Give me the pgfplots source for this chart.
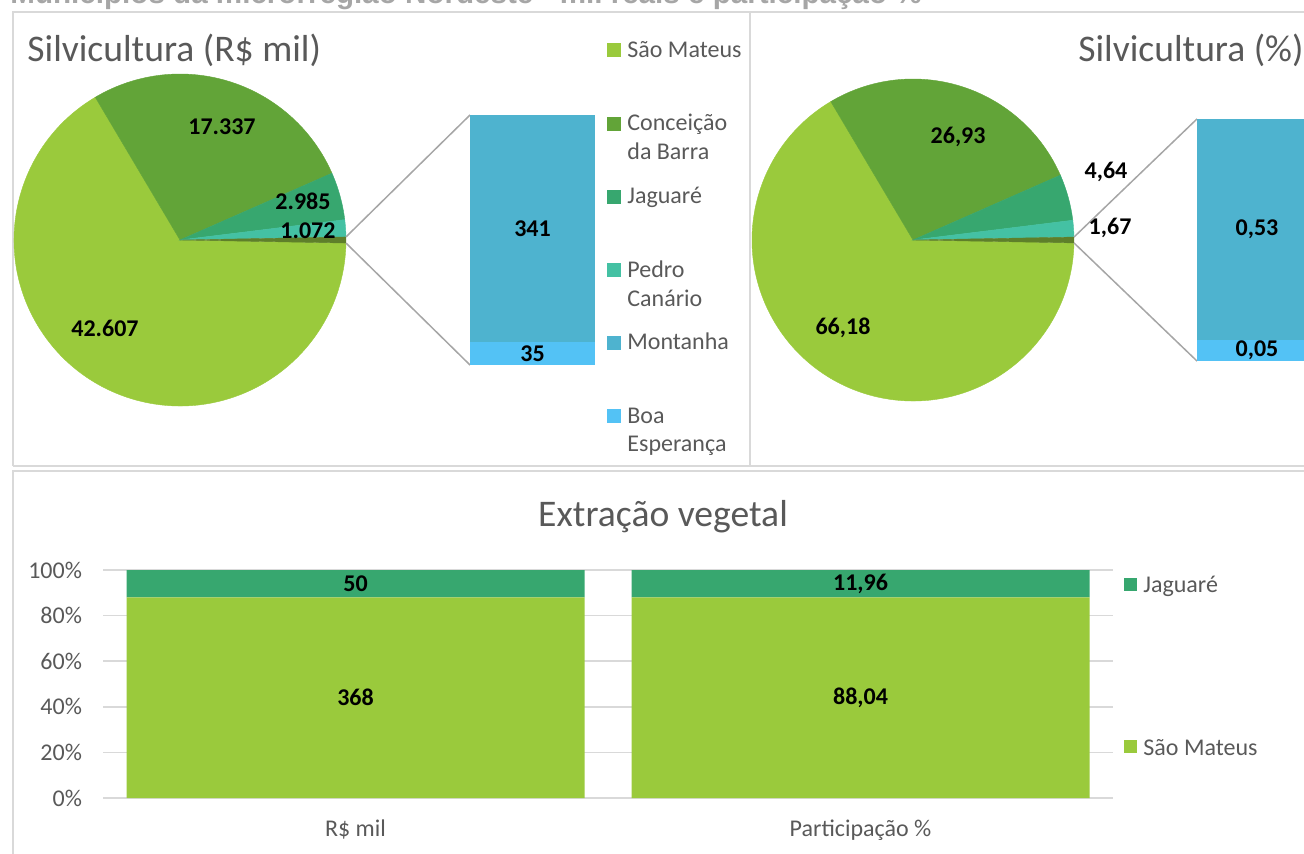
\documentclass[border=0pt]{standalone}
\usepackage{pgfplots}
\pgfplotsset{compat=1.18}
\usepackage{pgfplotstable}
\usepackage{fontspec}
\setmainfont{Carlito}
\newfontfamily\arialfont{Liberation Sans}

\definecolor{cSM}{HTML}{9ACA3C}
\definecolor{cCB}{HTML}{62A438}
\definecolor{cJG}{HTML}{37A76F}
\definecolor{cPC}{HTML}{44C1A3}
\definecolor{cMO}{HTML}{4EB3CF}
\definecolor{cBE}{HTML}{53C2F5}
\definecolor{cOT}{HTML}{5E7F2A}
\definecolor{txtgray}{HTML}{595959}
\definecolor{gridgray}{HTML}{D9D9D9}
\definecolor{framegray}{HTML}{D9D9D9}
\definecolor{linegray}{HTML}{A6A6A6}
\definecolor{toptitle}{HTML}{A6A6A6}

% Silvicultura (R$ mil)
\pgfplotstableread{
name value label
SM 42607 42.607
CB 17337 17.337
JG 2985 2.985
PC 1072 1.072
}\pieA
\pgfplotstableread{
x MO BE MOl BEl
0 341 35 341 35
}\barA
% Silvicultura (%)
\pgfplotstableread{
name value label
SM 66.18 66,18
CB 26.93 26,93
JG 4.64 4,64
PC 1.67 1,67
}\pieB
\pgfplotstableread{
x MO BE MOl BEl
0 0.53 0.05 0,53 0,05
}\barB
% Extracao vegetal
\pgfplotstableread{
x sm jg sml jgl
0 368 50 368 50
1 88.04 11.96 88,04 11,96
}\barC

\newcommand\getv[4]{\pgfplotstablegetelem{#2}{#3}\of#1\edef#4{\pgfplotsretval}}
\newcommand\setang[2]{\expandafter\edef\csname #1\endcsname{\fpeval{round(#2,4)}}}
\newcommand\pieangles[3]{%
  \getv{#1}{0}{value}\vSM
  \getv{#1}{1}{value}\vCB
  \getv{#1}{2}{value}\vJG
  \getv{#1}{3}{value}\vPC
  \getv{#2}{0}{MO}\vMO
  \getv{#2}{0}{BE}\vBE
  \edef\vOT{\fpeval{\vMO+\vBE}}%
  \edef\vT{\fpeval{\vSM+\vCB+\vJG+\vPC+\vOT}}%
  \expandafter\edef\csname #3OT\endcsname{\vOT}%
  \setang{#3a}{-180*\vOT/\vT}%
  \setang{#3b}{\csname #3a\endcsname+360*\vOT/\vT}%
  \setang{#3c}{\csname #3b\endcsname+360*\vPC/\vT}%
  \setang{#3d}{\csname #3c\endcsname+360*\vJG/\vT}%
  \setang{#3e}{\csname #3d\endcsname+360*\vCB/\vT}%
  \setang{#3f}{\csname #3e\endcsname+360*\vSM/\vT}%
}
\pieangles{\pieA}{\barA}{pA}
\pieangles{\pieB}{\barB}{pB}

\newcommand\lbl{\bfseries\fontsize{12}{14}\selectfont}
\newcommand\txt{\fontsize{12}{14.5}\selectfont}
\newcommand\ttl{\fontsize{18.8}{22}\selectfont}
\newcommand\pieslice[4]{\filldraw[fill=#1, draw=#1, line width=0.2pt] (0,0) -- ({cos(#2)},{sin(#2)}) arc[start angle=#2, end angle=#3, radius=#4] -- cycle;}

\pgfplotsset{seglabel/.style={nodes near coords, point meta=explicit symbolic,
   every node near coord/.style={font=\lbl, text=black, anchor=center, inner sep=0pt}}}

\newsavebox\picbox

\begin{document}
\begin{lrbox}{\picbox}%
\begin{tikzpicture}[baseline=0pt, trim left=0pt, trim right=652pt]
\begin{scope}[x=0.5pt,y=0.5pt]
% top (cut) title
\node[anchor=base west, inner sep=0pt, text=toptitle, font=\arialfont\bfseries\fontsize{14.8}{18}\selectfont] at (10,849) {Municípios da microrregião Nordeste - mil reais e participação \%};
% panel frames
\draw[framegray, line width=0.75pt] (13,387) -- (13,841) -- (1310,841);
\draw[framegray, line width=0.75pt] (750,841) -- (750,387);
\draw[framegray, line width=0.75pt] (13,387) -- (1310,387);
\draw[framegray, line width=0.75pt] (13,-5) -- (13,382) -- (1310,382);
% titles
\node[anchor=west, inner sep=0pt, text=txtgray, font=\ttl] at (27,803) {Silvicultura (R\$ mil)};
\node[anchor=east, inner sep=0pt, text=txtgray, font=\ttl] at (1304,803) {Silvicultura (\%)};
\node[anchor=center, inner sep=0pt, text=txtgray, font=\ttl] at (663,336) {Extração vegetal};
% legend top-left
\fill[cSM] (607,796) rectangle (621,810);
\node[anchor=base west, inner sep=0pt, text=txtgray, font=\txt] at (627,795) {São Mateus};
\fill[cCB] (607,722) rectangle (621,736);
\node[anchor=base west, inner sep=0pt, text=txtgray, font=\txt] at (627,722) {Conceição};
\node[anchor=base west, inner sep=0pt, text=txtgray, font=\txt] at (627,693) {da Barra};
\fill[cJG] (607,649) rectangle (621,663);
\node[anchor=base west, inner sep=0pt, text=txtgray, font=\txt] at (627,649) {Jaguaré};
\fill[cPC] (607,576) rectangle (621,590);
\node[anchor=base west, inner sep=0pt, text=txtgray, font=\txt] at (627,576) {Pedro};
\node[anchor=base west, inner sep=0pt, text=txtgray, font=\txt] at (627,547) {Canário};
\fill[cMO] (607,503) rectangle (621,517);
\node[anchor=base west, inner sep=0pt, text=txtgray, font=\txt] at (627,504) {Montanha};
\fill[cBE] (607,430) rectangle (621,444);
\node[anchor=base west, inner sep=0pt, text=txtgray, font=\txt] at (627,430) {Boa};
\node[anchor=base west, inner sep=0pt, text=txtgray, font=\txt] at (627,402) {Esperança};
% legend bottom
\fill[cJG] (1124,262) rectangle (1137,275);
\node[anchor=base west, inner sep=0pt, text=txtgray, font=\txt] at (1143,261) {Jaguaré};
\fill[cSM] (1124,100) rectangle (1137,113);
\node[anchor=base west, inner sep=0pt, text=txtgray, font=\txt] at (1143,98) {São Mateus};
\end{scope}
% ---- Pie 1
\begin{axis}[at={(90pt,306.5pt)}, anchor=center, x=83pt, y=83pt, xmin=-1, xmax=1, ymin=-1, ymax=1, hide axis, clip=false]
\pieslice{cSM}{\pAe}{\pAf}{83pt}
\pieslice{cCB}{\pAd}{\pAe}{83pt}
\pieslice{cJG}{\pAc}{\pAd}{83pt}
\pieslice{cPC}{\pAb}{\pAc}{83pt}
\pieslice{cOT}{\pAa}{\pAb}{83pt}
\draw[linegray, line width=0.75pt] ({cos(\pAb)},{sin(\pAb)}) -- (1.747,0.753);
\draw[linegray, line width=0.75pt] ({cos(\pAa)},{sin(\pAa)}) -- (1.747,-0.753);
\node[font=\lbl] at (0.253,0.681) {17.337};
\node[font=\lbl] at (0.741,0.235) {2.985};
\node[font=\lbl] at (0.771,0.054) {1.072};
\node[font=\lbl] at (-0.452,-0.530) {42.607};
\end{axis}
\begin{axis}[at={(235pt,244pt)}, anchor=south west, scale only axis, width=62.5pt, height=125pt, xmin=-0.5, xmax=0.5, ymin=0, ymax=\pAOT, hide axis, ybar stacked, bar width=62.5pt, clip=false]
\addplot[fill=cBE, draw=none, seglabel] table[x=x, y=BE, meta=BEl] {\barA};
\addplot[fill=cMO, draw=none, seglabel] table[x=x, y=MO, meta=MOl] {\barA};
\end{axis}
% ---- Pie 2
\begin{axis}[at={(456.5pt,306.5pt)}, anchor=center, x=80.5pt, y=80.5pt, xmin=-1, xmax=1, ymin=-1, ymax=1, hide axis, clip=false]
\pieslice{cSM}{\pBe}{\pBf}{80.5pt}
\pieslice{cCB}{\pBd}{\pBe}{80.5pt}
\pieslice{cJG}{\pBc}{\pBd}{80.5pt}
\pieslice{cPC}{\pBb}{\pBc}{80.5pt}
\pieslice{cOT}{\pBa}{\pBb}{80.5pt}
\draw[linegray, line width=0.75pt] ({cos(\pBb)},{sin(\pBb)}) -- (1.764,0.752);
\draw[linegray, line width=0.75pt] ({cos(\pBa)},{sin(\pBa)}) -- (1.764,-0.752);
\node[font=\lbl] at (0.280,0.640) {26,93};
\node[font=\lbl] at (1.199,0.422) {4,64};
\node[font=\lbl] at (1.224,0.075) {1,67};
\node[font=\lbl] at (-0.435,-0.547) {66,18};
\end{axis}
\begin{axis}[at={(598.5pt,246pt)}, anchor=south west, scale only axis, width=60pt, height=121pt, xmin=-0.5, xmax=0.5, ymin=0, ymax=\pBOT, hide axis, ybar stacked, bar width=60pt, clip=false]
\addplot[fill=cBE, draw=none, seglabel] table[x=x, y=BE, meta=BEl] {\barB};
\addplot[fill=cMO, draw=none, seglabel] table[x=x, y=MO, meta=MOl] {\barB};
\end{axis}
% ---- Extracao vegetal
\begin{axis}[at={(51.5pt,27.5pt)}, anchor=south west, scale only axis, width=505pt, height=114pt,
  ybar stacked, bar width=229pt, xmin=-0.5, xmax=1.5, ymin=0, ymax=100,
  xtick={0,1}, xticklabels={R\$ mil,Participação \%},
  ytick={0,20,40,60,80,100}, yticklabels={0\%,20\%,40\%,60\%,80\%,100\%},
  ymajorgrids, major grid style={gridgray, line width=0.75pt},
  axis line style={draw=none}, major tick length=0pt, tick style={draw=none},
  ticklabel style={font=\txt, text=txtgray},
  yticklabel style={xshift=-7pt}, xticklabel style={yshift=-7.5pt}, clip=false]
\addplot[fill=cSM, draw=none, seglabel]
  table[x=x, y expr=\thisrow{sm}/(\thisrow{sm}+\thisrow{jg})*100, meta=sml] {\barC};
\addplot[fill=cJG, draw=none, seglabel]
  table[x=x, y expr=\thisrow{jg}/(\thisrow{sm}+\thisrow{jg})*100, meta=jgl] {\barC};
\end{axis}
\end{tikzpicture}%
\end{lrbox}%
\ht\picbox=0pt\dp\picbox=0pt%
\mbox{\usebox\picbox\rule{0pt}{426.5pt}}%
\end{document}
